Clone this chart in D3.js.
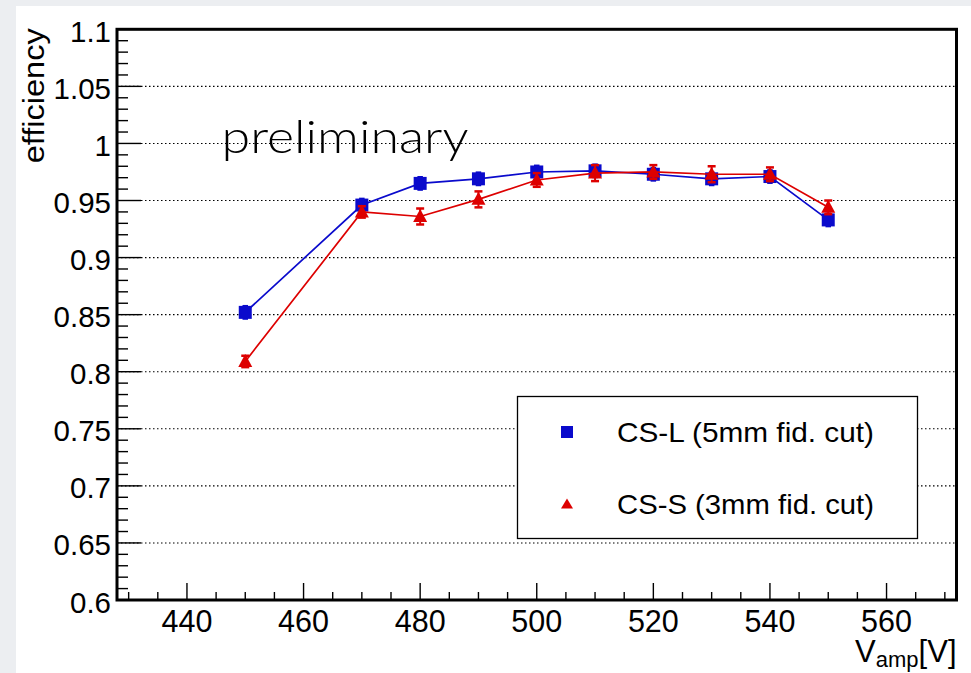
<!DOCTYPE html>
<html>
<head>
<meta charset="utf-8">
<script src="https://cdn.jsdelivr.net/npm/d3@7/dist/d3.min.js"></script>
<style>
  html, body { margin: 0; padding: 0; background: #eceef1; }
  svg { display: block; }
</style>
</head>
<body>
<svg id="chart" width="971" height="673"></svg>
<script>
// ---- data ----
const voltages = [450, 470, 480, 490, 500, 510, 520, 530, 540, 550];
const csL = [0.852, 0.946, 0.965, 0.969, 0.975, 0.976, 0.973, 0.969, 0.971, 0.933];
const csLErr = [0.0065, 0.0065, 0.0065, 0.0065, 0.0065, 0.0065, 0.0065, 0.0065, 0.0065, 0.0065];
const csS = [0.809, 0.940, 0.936, 0.951, 0.968, 0.974, 0.975, 0.973, 0.973, 0.944];
const csSErr = [0.005, 0.005, 0.007, 0.007, 0.006, 0.007, 0.006, 0.007, 0.006, 0.006];
const seriesNames = ["CS-L (5mm fid. cut)", "CS-S (3mm fid. cut)"];
const xTickLabels = [440, 460, 480, 500, 520, 540, 560];
const yTickLabels = [0.6, 0.65, 0.7, 0.75, 0.8, 0.85, 0.9, 0.95, 1, 1.05, 1.1];

const W = 971, H = 673;
const svg = d3.select("#chart");
const FONT = "'Liberation Sans', Arial, Helvetica, sans-serif";
const BLUE = "#0a0acc", RED = "#dd0000";

// canvas
svg.append("rect").attr("x", 16).attr("y", 6).attr("width", W - 16).attr("height", H - 6).attr("fill", "#ffffff");

const pL = 117, pR = 956.5, pT = 29.3, pB = 600;
const x = d3.scaleLinear().domain([428, 572]).range([pL, pR]);
const y = d3.scaleLinear().domain([0.6, 1.1]).range([pB, pT]);

// grid
svg.append("g").selectAll("line").data(yTickLabels).join("line")
  .attr("x1", pL).attr("x2", pR)
  .attr("y1", d => y(d)).attr("y2", d => y(d))
  .attr("stroke", "#000").attr("stroke-width", 1.1)
  .attr("stroke-dasharray", "1.5,2.5");

// minor/major ticks
const yMinor = d3.range(0, 51).map(i => +(0.6 + i * 0.01).toFixed(2));
const yMajorSet = new Set(yTickLabels.map(d => d.toFixed(2)));
svg.append("g").selectAll("line").data(yMinor).join("line")
  .attr("x1", pL).attr("x2", d => pL + (yMajorSet.has(d.toFixed(2)) ? 24 : 11))
  .attr("y1", d => y(d)).attr("y2", d => y(d))
  .attr("stroke", "#000").attr("stroke-width", 1.4);

const xMinor = d3.range(430, 571, 5);
svg.append("g").selectAll("line").data(xMinor).join("line")
  .attr("x1", d => x(d)).attr("x2", d => x(d))
  .attr("y1", pB).attr("y2", d => pB - (xTickLabels.includes(d) ? 17 : 8))
  .attr("stroke", "#000").attr("stroke-width", 1.4);

// frame
svg.append("rect").attr("x", pL).attr("y", pT).attr("width", pR - pL).attr("height", pB - pT)
  .attr("fill", "none").attr("stroke", "#000").attr("stroke-width", 3);

// tick labels
svg.append("g").selectAll("text").data(yTickLabels).join("text")
  .attr("x", 111).attr("y", d => y(d) + 12.5)
  .attr("text-anchor", "end").attr("font-family", FONT).attr("font-size", 29.5)
  .text(d => d3.format("")(d));

svg.append("g").selectAll("text").data(xTickLabels).join("text")
  .attr("x", d => x(d)).attr("y", 632)
  .attr("text-anchor", "middle").attr("font-family", FONT).attr("font-size", 30.5)
  .text(d => d);

// axis titles
svg.append("text")
  .attr("transform", `translate(43.5,${pT - 1}) rotate(-90)`)
  .attr("text-anchor", "end").attr("font-family", FONT).attr("font-size", 30)
  .attr("textLength", 135).attr("lengthAdjust", "spacingAndGlyphs")
  .text("efficiency");

const xt = svg.append("text").attr("x", pR).attr("y", 662)
  .attr("text-anchor", "end").attr("font-family", FONT).attr("font-size", 31);
xt.append("tspan").text("V");
xt.append("tspan").attr("font-size", 22).attr("dy", 5).text("amp");
xt.append("tspan").attr("dy", -5).text("[V]");

// preliminary
svg.append("text").attr("x", 221.5).attr("y", 153.3)
  .attr("font-family", "Lato, 'DejaVu Sans', sans-serif").attr("font-weight", 300)
  .attr("font-size", 45).attr("textLength", 247).attr("lengthAdjust", "spacingAndGlyphs")
  .text("preliminary");

// series
const line = d3.line().x(d => x(d[0])).y(d => y(d[1]));
const dL = voltages.map((v, i) => [v, csL[i], csLErr[i]]);
const dS = voltages.map((v, i) => [v, csS[i], csSErr[i]]);

function drawSeries(data, color, marker, capped, errWidth) {
  const g = svg.append("g");
  g.append("path").datum(data).attr("d", line).attr("fill", "none")
    .attr("stroke", color).attr("stroke-width", 1.7);
  g.selectAll("line.err").data(data).join("line").attr("class", "err")
    .attr("x1", d => x(d[0])).attr("x2", d => x(d[0]))
    .attr("y1", d => y(d[1] - d[2])).attr("y2", d => y(d[1] + d[2]))
    .attr("stroke", color).attr("stroke-width", errWidth);
  if (capped) {
    ["u", "d"].forEach(s => {
      g.selectAll("line.cap" + s).data(data).join("line")
        .attr("class", "cap" + s)
        .attr("x1", d => x(d[0]) - 4).attr("x2", d => x(d[0]) + 4)
        .attr("y1", d => y(s === "u" ? d[1] + d[2] : d[1] - d[2]))
        .attr("y2", d => y(s === "u" ? d[1] + d[2] : d[1] - d[2]))
        .attr("stroke", color).attr("stroke-width", 2.5);
    });
  }
  g.selectAll("path.m").data(data).join("path").attr("class", "m")
    .attr("d", marker)
    .attr("transform", d => `translate(${x(d[0])},${y(d[1])})`)
    .attr("fill", color);
}
const squarePath = "M-6.5,-6.5H6.5V6.5H-6.5Z";
const triPath = "M0,-7.5L7,5.5H-7Z";
drawSeries(dL, BLUE, squarePath, false, 5.5);
drawSeries(dS, RED, triPath, true, 2);

// legend
const lg = svg.append("g");
lg.append("rect").attr("x", 517.5).attr("y", 396.5).attr("width", 400).attr("height", 142)
  .attr("fill", "#fff").attr("stroke", "#000").attr("stroke-width", 1.3);
const legendItems = [
  { name: seriesNames[0], color: BLUE, marker: "M-6,-6H6V6H-6Z", cy: 432 },
  { name: seriesNames[1], color: RED, marker: "M0,-5.5L6,4.5H-6Z", cy: 504 }
];
legendItems.forEach(it => {
  lg.append("path").attr("d", it.marker).attr("transform", `translate(567,${it.cy})`).attr("fill", it.color);
  lg.append("text").attr("x", 617).attr("y", it.cy + 10).attr("font-family", FONT)
    .attr("font-size", 28.5).attr("textLength", 257).attr("lengthAdjust", "spacingAndGlyphs")
    .text(it.name);
});
</script>
</body>
</html>
